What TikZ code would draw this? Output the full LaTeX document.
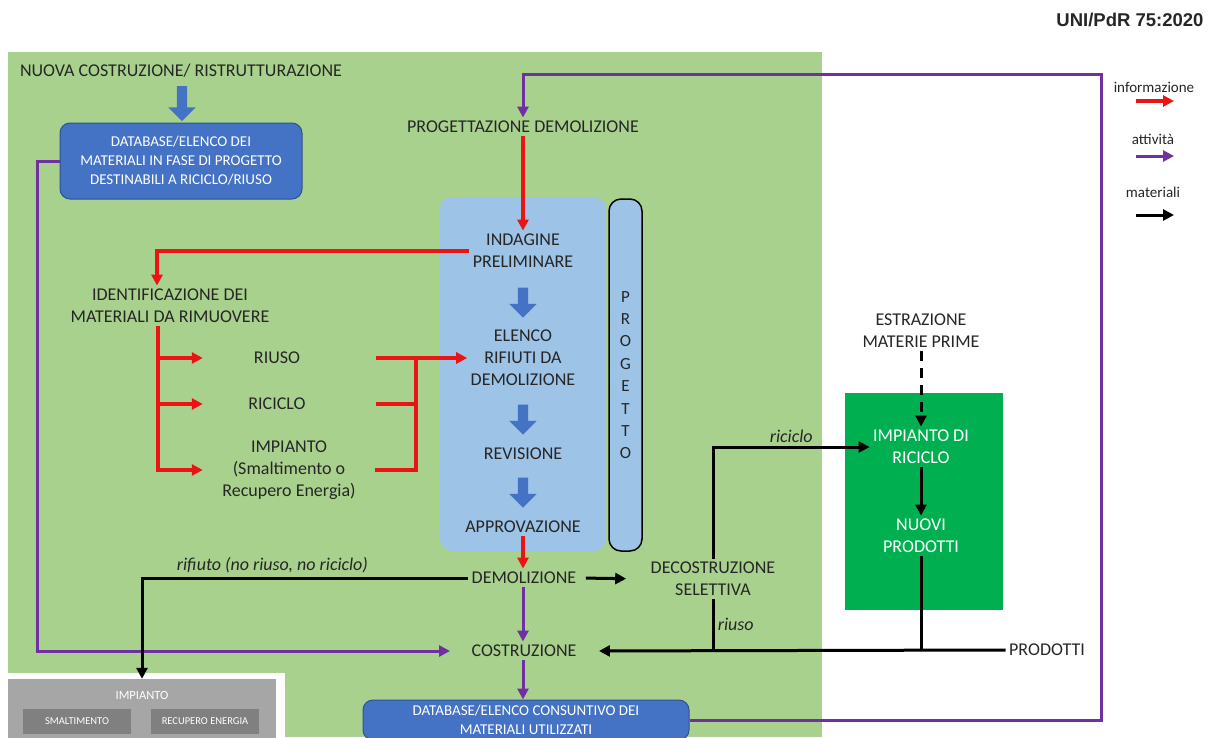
\documentclass[tikz,border=0pt]{standalone}
\usepackage{fontspec}
\setmainfont{Carlito}
\newfontfamily\arialfont{Liberation Sans}
\usetikzlibrary{arrows.meta,shapes.arrows}

\definecolor{verdechiaro}{HTML}{A9D18E}
\definecolor{verdescuro}{HTML}{00B050}
\definecolor{azzurro}{HTML}{9DC3E6}
\definecolor{bludb}{HTML}{4472C4}
\definecolor{bludbbordo}{HTML}{2F528F}
\definecolor{rosso}{RGB}{235,20,20}
\definecolor{viola}{HTML}{7030A0}
\definecolor{grigio}{HTML}{A6A6A6}
\definecolor{grigioscuro}{HTML}{808080}
\definecolor{testo}{HTML}{262626}

\begin{document}
\begin{tikzpicture}[x=1pt,y=-1pt,
    txt/.style={align=center, text=testo, font=\fontsize{18}{22}\selectfont},
    lab/.style={text=testo, font=\fontsize{18}{22}\itshape},
    dbbox/.style={rounded corners=10pt, fill=bludb, draw=bludbbordo, line width=1pt,
                  text=white, align=center, font=\fontsize{15}{19}\selectfont},
    grigiobox/.style={fill=grigioscuro, text=white, minimum width=108, minimum height=25,
                  font=\fontsize{10.5}{12}\selectfont},
    info/.style={draw=rosso, line width=3.5pt, -{Triangle[length=11pt,width=11pt]}},
    act/.style={draw=viola, line width=3pt, -{Triangle[length=11pt,width=11pt]}},
    mat/.style={draw=black, line width=3pt, -{Triangle[length=11pt,width=11pt]}},
    freccia/.style={single arrow, shape border rotate=270, fill=bludb, inner sep=5pt,
                  single arrow head extend=8.5pt, minimum height=30}]

  \useasboundingbox (0,0) rectangle (1210,737);
  \fill[verdechiaro] (8,52) rectangle (822,737);
  \fill[white] (0,673) rectangle (285,737);

  \path (523,374) node[fill=azzurro, rounded corners=12pt, minimum width=166, minimum height=354] (fase) {}
        (625.5,375) node[draw, fill=azzurro, rounded corners=12pt, line width=1.5pt, minimum width=33,
                         minimum height=352, align=center, text=testo,
                         font=\fontsize{17}{22.4}\selectfont] (progetto) {P\\R\\O\\G\\E\\T\\T\\O}
        (924,501.5) node[fill=verdescuro, minimum width=158, minimum height=217] (verde) {}
        (142,709) node[fill=grigio, minimum width=268, minimum height=60] (grigio) {};

  \node[font=\arialfont\bfseries\fontsize{18.5}{22}\selectfont, text=testo] (titolo) at (1130,20) {UNI/PdR 75:2020};

  \node[txt] (nuova) at (181,71) {NUOVA COSTRUZIONE/ RISTRUTTURAZIONE};
  \node[freccia, minimum height=35] (fr0) at (182,101) {};
  \node[dbbox, minimum width=242, minimum height=76] (db1) at (181,161)
       {DATABASE/ELENCO DEI\\MATERIALI IN FASE DI PROGETTO\\DESTINABILI A RICICLO/RIUSO};

  \node[txt] (progd) at (523,127) {PROGETTAZIONE DEMOLIZIONE};
  \node[txt] (indag) at (523,251) {INDAGINE\\PRELIMINARE};
  \node[freccia] (fr1) at (523,300) {};
  \node[txt] (elenco) at (523,358) {ELENCO\\RIFIUTI DA\\DEMOLIZIONE};
  \node[freccia] (fr2) at (523,417) {};
  \node[txt] (revis) at (523,454) {REVISIONE};
  \node[freccia] (fr3) at (523,490) {};
  \node[txt] (approv) at (523,527) {APPROVAZIONE};
  \node[txt] (demol) at (524,578) {DEMOLIZIONE};
  \node[txt] (costr) at (524,651) {COSTRUZIONE};
  \node[dbbox, minimum width=326, minimum height=40] (db2) at (526,720)
       {DATABASE/ELENCO CONSUNTIVO DEI\\MATERIALI UTILIZZATI};

  \node[txt] (ident) at (170,306) {IDENTIFICAZIONE DEI\\MATERIALI DA RIMUOVERE};
  \node[txt, minimum width=148] (riuso) at (277,358) {RIUSO};
  \node[txt, minimum width=148] (riciclo) at (277,404) {RICICLO};
  \node[txt, minimum width=172] (imp) at (289,470) {IMPIANTO\\(Smaltimento o\\Recupero Energia)};
  \coordinate (nodo) at (416,358);

  \node[txt] (decos) at (713,579) {DECOSTRUZIONE\\SELETTIVA};
  \node[txt] (estr) at (921,331) {ESTRAZIONE\\MATERIE PRIME};
  \node[txt, text=white] (impric) at (921,447) {IMPIANTO DI\\RICICLO};
  \node[txt, text=white] (nuovi) at (921,536) {NUOVI\\PRODOTTI};
  \node[txt] (prod) at (1047,650) {PRODOTTI};
  \coordinate (ango) at (1101,74);

  \node[text=white, font=\fontsize{12.5}{14}\selectfont] (impg) at (142,695) {IMPIANTO};
  \node[grigiobox] (smalt) at (77,721) {SMALTIMENTO};
  \node[grigiobox] (recup) at (205,721) {RECUPERO ENERGIA};

  \draw[info] (progd.south) -- (indag.north);
  \draw[info] (indag.west) -| ([xshift=-13pt]ident.north);
  \draw[info] ([xshift=-12pt]ident.south) |- (riuso.west);
  \draw[info] ([xshift=-12pt]ident.south) |- (riciclo.west);
  \draw[info] ([xshift=-12pt]ident.south) |- (imp.west);
  \draw[info, shorten <=25pt] (riuso.east) -- (elenco.west);
  \draw[info, -, shorten <=25pt] (riciclo.east) -| (nodo);
  \draw[info, -] (imp.east) -| (nodo);
  \draw[info] (approv.south) -- (approv.south |- demol.north);

  \draw[act] (db1.west) -- ++(-22,0) |- ([xshift=-18pt]costr.west);
  \draw[act] (db2.east) -| (ango) -| (progd.north);
  \draw[act] (approv.south |- demol.south) -- (approv.south |- costr.north);
  \draw[act] (approv.south |- costr.south) -- (approv.south |- db2.north);

  \draw[mat] (demol.west) -| node[pos=0.3, above, lab] {rifiuto (no riuso, no riciclo)} (grigio.north);
  \draw[mat, shorten <=6pt, shorten >=21pt] (demol.east) -- (decos.west);
  \draw[mat] (decos.north) |- node[pos=0.75, above, lab] {riciclo} (impric.west);
  \draw[mat, -] (decos.south) -- node[right, lab] {riuso} (decos.south |- prod.west);
  \draw[mat, shorten >=19pt] (prod.west) -- (costr.east);
  \draw[mat, -] (nuovi.south) -- (nuovi.south |- prod.west);
  \draw[mat] (impric.south) -- (nuovi.north);
  \draw[mat, dash pattern=on 10pt off 7pt] (estr.south) -- (impric.north);

  \node[text=testo, font=\fontsize{15}{18}\selectfont] (linfo) at (1154,87) {informazione};
  \node[text=testo, font=\fontsize{15}{18}\selectfont] (lact) at (1153,139) {attività};
  \node[text=testo, font=\fontsize{15}{18}\selectfont] (lmat) at (1153,192) {materiali};
  \coordinate (li1) at (1136,101); \coordinate (li2) at (1174,101);
  \coordinate (la1) at (1136,156); \coordinate (la2) at (1174,156);
  \coordinate (lm1) at (1136,215); \coordinate (lm2) at (1174,215);
  \draw[info] (li1) -- (li2);
  \draw[act] (la1) -- (la2);
  \draw[mat] (lm1) -- (lm2);
\end{tikzpicture}
\end{document}
